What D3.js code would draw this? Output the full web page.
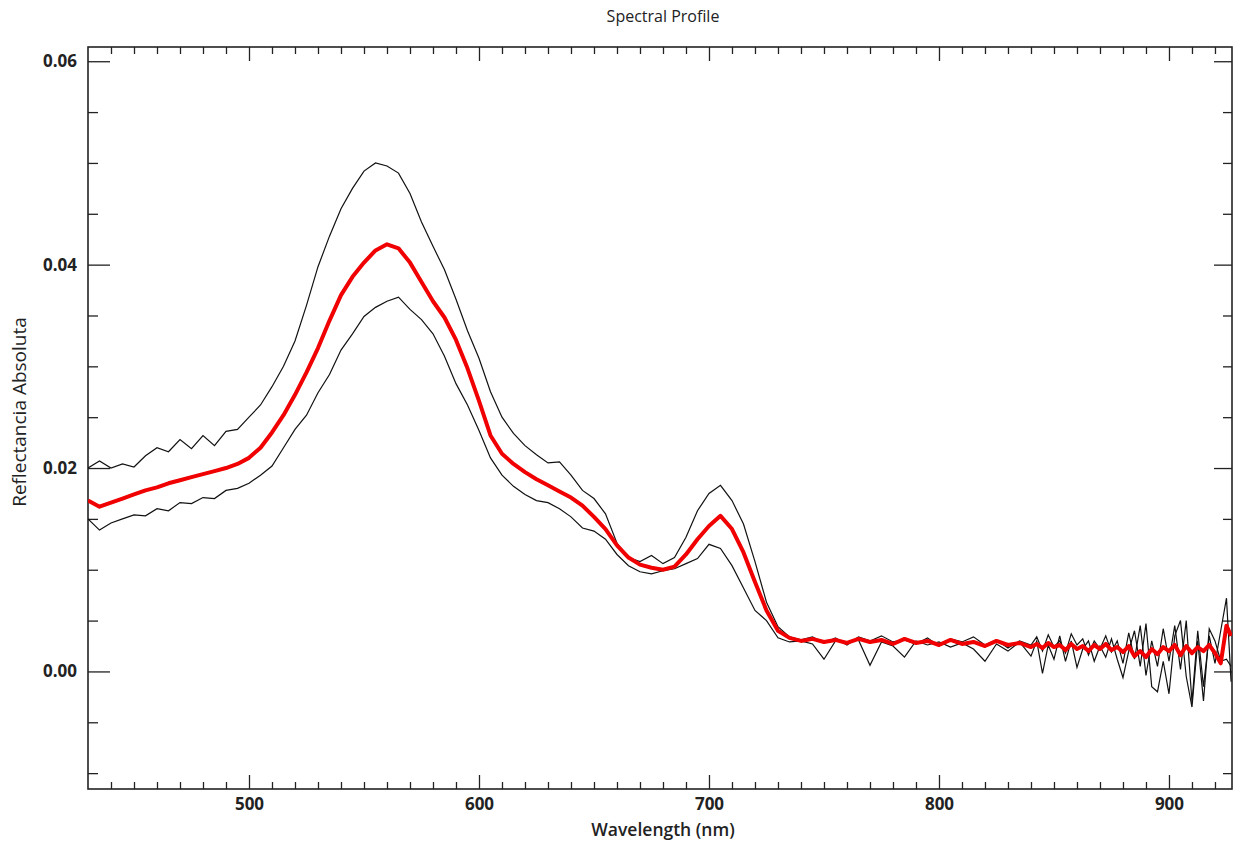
<!DOCTYPE html>
<html><head><meta charset="utf-8">
<script src="https://cdn.jsdelivr.net/npm/d3@7"></script>
<style>body{margin:0;background:#fff}svg{display:block}text{font-family:"Open Sans",sans-serif;fill:#222}</style>
</head><body><svg id="c" width="1238" height="844"></svg>
<script>
// wavelengths: 5 nm steps to 840, then 2.5 nm steps
const wavelengths = [430,435,440,445,450,455,460,465,470,475,480,485,490,495,500,505,510,515,520,525,530,535,540,545,550,555,560,565,570,575,580,585,590,595,600,605,610,615,620,625,630,635,640,645,650,655,660,665,670,675,680,685,690,695,700,705,710,715,720,725,730,735,740,745,750,755,760,765,770,775,780,785,790,795,800,805,810,815,820,825,830,835,840,
842.5,845,847.5,850,852.5,855,857.5,860,862.5,865,867.5,870,872.5,875,877.5,880,882.5,885,887.5,890,892.5,895,897.5,900,902.5,905,907.5,910,912.5,915,917.5,920,922.5,925,927];

const meanValues = [0.0168,0.0162,0.0166,0.0170,0.0174,0.0178,0.0181,0.0185,0.0188,0.0191,0.0194,0.0197,0.0200,0.0204,0.0210,0.0220,0.0235,0.0252,0.0272,0.0294,0.0318,0.0345,0.0370,0.0388,0.0402,0.0414,0.0420,0.0416,0.0402,0.0383,0.0364,0.0348,0.0326,0.0298,0.0266,0.0232,0.0214,0.0204,0.0196,0.0189,0.0183,0.0177,0.0171,0.0163,0.0152,0.0140,0.0124,0.0112,0.0105,0.0102,0.0100,0.0103,0.0115,0.0130,0.0143,0.0153,0.0140,0.0117,0.0088,0.0060,0.0040,0.0033,0.0030,0.0032,0.0029,0.0031,0.0028,0.0032,0.0029,0.0031,0.0027,0.0032,0.0028,0.0030,0.0026,0.0031,0.0027,0.0029,0.0025,0.0030,0.0026,0.0028,0.0024,
0.0027,0.0023,0.0028,0.0024,0.0026,0.0021,0.0027,0.0022,0.0025,0.0020,0.0026,0.0022,0.0027,0.0021,0.0024,0.0019,0.0025,0.0015,0.0020,0.0014,0.0022,0.0017,0.0024,0.0020,0.0026,0.0016,0.0025,0.0018,0.0024,0.0020,0.0026,0.0018,0.0008,0.0045,0.0035];

const upperValues = [0.0200,0.0207,0.0200,0.0204,0.0201,0.0212,0.0220,0.0216,0.0228,0.0219,0.0232,0.0222,0.0236,0.0238,0.0250,0.0262,0.0280,0.0300,0.0325,0.0360,0.0398,0.0428,0.0455,0.0475,0.0492,0.0500,0.0497,0.0490,0.0470,0.0442,0.0418,0.0395,0.0366,0.0335,0.0308,0.0275,0.0250,0.0234,0.0222,0.0213,0.0205,0.0206,0.0193,0.0178,0.0170,0.0155,0.0126,0.0112,0.0108,0.0114,0.0106,0.0112,0.0132,0.0158,0.0175,0.0183,0.0168,0.0145,0.0108,0.0068,0.0044,0.0034,0.0031,0.0034,0.0028,0.0033,0.0026,0.0034,0.0030,0.0035,0.0029,0.0031,0.0027,0.0033,0.0025,0.0032,0.0029,0.0034,0.0026,0.0031,0.0023,0.0030,0.0026,
0.0034,0.0020,0.0036,0.0024,0.0030,0.0018,0.0037,0.0026,0.0032,0.0016,0.0030,0.0022,0.0035,0.0019,0.0030,0.0008,0.0038,0.0012,0.0045,-0.0004,0.0030,0.0005,0.0042,0.0010,0.0045,0.0002,0.0050,-0.0030,0.0040,-0.0015,0.0035,0.0008,0.0040,0.0072,-0.0010];

const lowerValues = [0.0150,0.0139,0.0146,0.0150,0.0154,0.0153,0.0160,0.0158,0.0166,0.0165,0.0171,0.0170,0.0178,0.0180,0.0185,0.0193,0.0202,0.0220,0.0238,0.0252,0.0274,0.0292,0.0316,0.0332,0.0349,0.0358,0.0364,0.0368,0.0356,0.0346,0.0332,0.0310,0.0283,0.0262,0.0237,0.0210,0.0193,0.0182,0.0174,0.0168,0.0166,0.0160,0.0152,0.0141,0.0138,0.0130,0.0115,0.0104,0.0098,0.0096,0.0099,0.0101,0.0106,0.0111,0.0125,0.0121,0.0104,0.0082,0.0060,0.0050,0.0033,0.0029,0.0030,0.0027,0.0012,0.0030,0.0028,0.0031,0.0006,0.0029,0.0025,0.0014,0.0030,0.0026,0.0029,0.0024,0.0028,0.0022,0.0010,0.0027,0.0020,0.0029,0.0015,
0.0030,-0.0002,0.0026,0.0012,0.0035,0.0010,0.0030,0.0004,0.0022,0.0030,0.0010,0.0025,0.0014,0.0032,0.0012,-0.0006,0.0020,0.0040,0.0005,0.0047,-0.0015,-0.0020,0.0010,-0.0022,0.0035,0.0050,-0.0005,-0.0035,0.0030,-0.0029,0.0042,0.0030,0.0010,0.0012,0.0005];

const xTickValues = [500,600,700,800,900];
const yTickValues = [0.00,0.02,0.04,0.06];
const titleText = "Spectral Profile";
const xLabel = "Wavelength (nm)";
const yLabel = "Reflectancia Absoluta";

const L = 88, R = 1232, T = 47, B = 789;
const svg = d3.select("#c");
const x = d3.scaleLinear().domain([430, 927.4]).range([L, R]);
const y = d3.scaleLinear().domain([-0.01156, 0.0614]).range([B, T]);

svg.append("clipPath").attr("id","clip").append("rect")
  .attr("x",L).attr("y",T).attr("width",R-L).attr("height",B-T);

const xMinor = d3.range(440, 927, 10).filter(v => v % 100 !== 0);
const yMinor = d3.range(-0.01, 0.0601, 0.005).filter(v => Math.abs(Math.round(v*1000)) % 20 !== 0);

function styleAxis(g){
  g.select(".domain").remove();
  g.selectAll(".tick line").attr("stroke","#222").attr("stroke-width",1.3);
}
// bottom
svg.append("g").attr("transform",`translate(0,${B})`)
  .call(d3.axisBottom(x).tickValues(xTickValues).tickSize(-14).tickPadding(9).tickFormat(d3.format("d")))
  .call(styleAxis)
  .call(g => g.selectAll("text").attr("font-size",17).attr("font-weight",700).attr("fill","#222"));
svg.append("g").attr("transform",`translate(0,${B})`)
  .call(d3.axisBottom(x).tickValues(xMinor).tickSize(-7).tickFormat(""))
  .call(styleAxis);
// top
svg.append("g").attr("transform",`translate(0,${T})`)
  .call(d3.axisTop(x).tickValues(xTickValues).tickSize(-14).tickFormat(""))
  .call(styleAxis);
svg.append("g").attr("transform",`translate(0,${T})`)
  .call(d3.axisTop(x).tickValues(xMinor).tickSize(-7).tickFormat(""))
  .call(styleAxis);
// left
svg.append("g").attr("transform",`translate(${L},0)`)
  .call(d3.axisLeft(y).tickValues(yTickValues).tickSize(-22).tickPadding(11).tickFormat(d3.format(".2f")))
  .call(styleAxis)
  .call(g => g.selectAll("text").attr("font-size",17).attr("font-weight",700).attr("fill","#222"));
svg.append("g").attr("transform",`translate(${L},0)`)
  .call(d3.axisLeft(y).tickValues(yMinor).tickSize(-10).tickFormat(""))
  .call(styleAxis);
// right
svg.append("g").attr("transform",`translate(${R},0)`)
  .call(d3.axisRight(y).tickValues(yTickValues).tickSize(-18).tickFormat(""))
  .call(styleAxis);
svg.append("g").attr("transform",`translate(${R},0)`)
  .call(d3.axisRight(y).tickValues(yMinor).tickSize(-9).tickFormat(""))
  .call(styleAxis);

// frame
svg.append("rect").attr("x",L).attr("y",T).attr("width",R-L).attr("height",B-T)
  .attr("fill","none").attr("stroke","#222").attr("stroke-width",1.6);

const line = d3.line().x((d,i)=>x(wavelengths[i])).y(d=>y(d));
const plot = svg.append("g").attr("clip-path","url(#clip)");
plot.append("path").datum(upperValues).attr("d",line).attr("fill","none").attr("stroke","#111").attr("stroke-width",1.2);
plot.append("path").datum(lowerValues).attr("d",line).attr("fill","none").attr("stroke","#111").attr("stroke-width",1.2);
plot.append("path").datum(meanValues).attr("d",line).attr("fill","none").attr("stroke","#f00000").attr("stroke-width",4).attr("stroke-linejoin","round");

svg.append("text").attr("x",663).attr("y",22).attr("text-anchor","middle")
  .attr("font-size",16).attr("font-weight",500).text(titleText);
svg.append("text").attr("x",663).attr("y",836).attr("text-anchor","middle")
  .attr("font-size",17.5).attr("font-weight",600).text(xLabel);
svg.append("text").attr("transform","translate(26,412) rotate(-90)").attr("text-anchor","middle")
  .attr("font-size",19).text(yLabel);
</script></body></html>
